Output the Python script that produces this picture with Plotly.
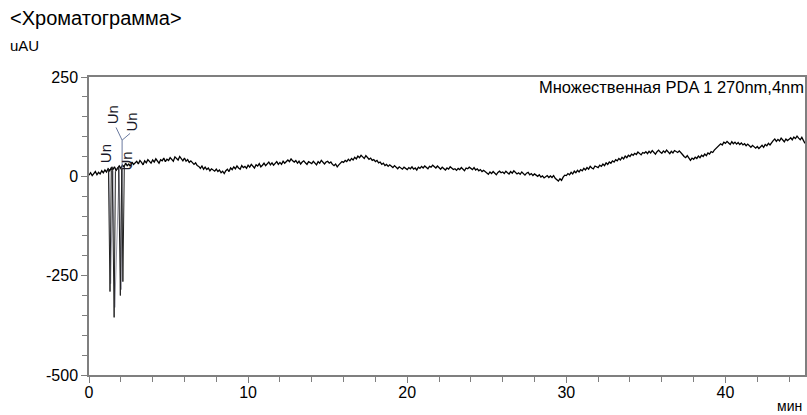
import plotly.graph_objects as go

# ---- data ----
time_step_min = 0.1
baseline_uau = [
    3, 9, 2, 8, 12, 4, 10, 6, 14, 9,
    16, 11, 19, 14, 22, 17, 24, 15, 21, 26,
    20, 28, 24, 33, 27, 31, 25, 36, 30, 34,
    38, 31, 40, 35, 29, 39, 34, 42, 36, 33,
    41, 36, 44, 38, 33, 42, 39, 46, 37, 43,
    40, 47, 43, 38, 49, 44, 41, 50, 45, 39,
    46, 38, 42, 35, 39, 33, 30, 34, 27, 25,
    20, 26, 18, 23, 17, 21, 14, 19, 16, 13,
    18, 12, 16, 9, 13, 7, 14, 18, 12, 21,
    17, 24, 19, 26, 21, 18, 27, 22, 25, 20,
    28, 23, 30, 25, 21, 29, 26, 32, 24, 28,
    33, 27, 31, 36, 29, 34, 28, 32, 37, 30,
    35, 30, 38, 33, 36, 41, 37, 44, 39, 36,
    40, 33, 38, 31, 36, 39, 34, 30, 37, 35,
    32, 38, 34, 29, 37, 33, 40, 35, 31, 36,
    38, 33, 36, 30, 27, 31, 24, 29, 33, 37,
    35, 40, 37, 43, 39, 45, 41, 48, 44, 51,
    47, 53, 49, 45, 52, 47, 43, 46, 40, 42,
    37, 40, 34, 36, 30, 33, 27, 30, 25, 29,
    26, 22, 27, 23, 19, 24, 21, 18, 23, 20,
    17, 22, 19, 24, 18, 21, 16, 23, 20, 25,
    21, 26, 22, 19, 25, 23, 28, 24, 21, 26,
    22, 18, 23, 19, 16, 21, 18, 24, 20, 17,
    19, 15, 20, 17, 22, 18, 14, 21, 19, 23,
    20, 17, 22, 16, 19, 14, 17, 12, 15, 11,
    9, 5, 11, 7, 12, 8, 4, 10, 13, 9,
    11, 7, 13, 9, 6, 12, 8, 14, 10, 6,
    9, 5, 11, 7, 3, 8, 10, 4, 7, 2,
    6, 3, 0, 4, -2, 1, -4, -1, 2, -3,
    1, -3, 2, -5, -8, -12, -6, -10, -2, 3,
    2, 7, 4, 10, 6, 13, 9, 15, 11, 17,
    14, 20, 16, 22, 18, 25, 21, 19, 26, 23,
    22, 28, 25, 31, 27, 34, 30, 36, 33, 39,
    36, 42, 39, 45, 41, 48, 44, 51, 47, 53,
    50, 56, 53, 58, 55, 61, 57, 54, 60, 58,
    62, 57, 63, 59, 65, 60, 56, 62, 66, 61,
    58, 64, 60, 66, 61, 57, 63, 59, 65, 62,
    60, 64, 58, 55, 50, 47, 52, 44, 40, 46,
    43, 48, 45, 51, 47, 53, 50, 56, 52, 59,
    56, 62, 60, 66, 70, 74, 78, 82, 79, 86,
    83, 88, 84, 80, 87, 82, 86, 81, 85, 80,
    84, 79, 82, 77, 81, 76, 73, 78, 74, 71,
    75, 70, 74, 78, 73, 80, 77, 83, 79, 86,
    90, 94, 88, 93, 89, 96, 91, 87, 94, 90,
    93, 97, 92, 99, 95, 101, 96, 92, 98, 88,
    83,
]
baseline_time = [round(i * time_step_min, 2) for i in range(len(baseline_uau))]

# negative "Un" peaks (black outline)
peak_time = [1.22, 1.32, 1.40, 1.46, 1.58, 1.66, 1.86, 1.97, 2.06, 2.13, 2.22]
peak_uau = [20, -290, 15, 24, -355, 12, 25, -300, 20, -265, 28]
# integration baselines (grey)
grey_time = [1.26, 1.36, 1.50, 1.62, 1.90, 2.02, 2.10]
grey_uau = [18, -270, 14, -330, 22, -285, 20]

un_label_time = [1.0, 1.45, 2.65, 2.35]
un_label_uau = [58, 154, 136, 38]

x_ticks = [0, 10, 20, 30, 40]
y_ticks = [250, 0, -250, -500]

FONT = "Liberation Sans, Arial, sans-serif"

fig = go.Figure()
fig.add_trace(go.Scatter(x=grey_time, y=grey_uau, mode="lines",
                         line=dict(color="#9a9aa8", width=1), hoverinfo="skip"))
fig.add_trace(go.Scatter(x=baseline_time, y=baseline_uau, mode="lines",
                         line=dict(color="black", width=1.3)))
fig.add_trace(go.Scatter(x=peak_time, y=peak_uau, mode="lines",
                         line=dict(color="#222222", width=1)))

# leader lines of the labels
lc = "#6a7aa0"
fig.add_shape(type="line", x0=1.70, y0=123, x1=2.08, y1=91, line=dict(color=lc, width=1))
fig.add_shape(type="line", x0=2.58, y0=108, x1=2.08, y1=91, line=dict(color=lc, width=1))
fig.add_shape(type="line", x0=2.08, y0=91, x1=2.08, y1=20, line=dict(color=lc, width=1))

for t, v in zip(un_label_time, un_label_uau):
    fig.add_annotation(x=t, y=v, text="Un", textangle=-90, showarrow=False,
                       font=dict(family=FONT, size=15, color="#1a1a2a"))

fig.add_annotation(xref="paper", yref="paper", x=1.0, y=1.0, xanchor="right", yanchor="top",
                   text="Множественная PDA 1 270nm,4nm", showarrow=False,
                   font=dict(family=FONT, size=16.5, color="black"), yshift=1, xshift=1)
fig.add_annotation(xref="paper", yref="paper", x=-0.1131, y=1.198, xanchor="left", yanchor="middle",
                   text="&lt;Хроматограмма&gt;", showarrow=False,
                   font=dict(family=FONT, size=20, color="black"))
fig.add_annotation(xref="paper", yref="paper", x=-0.1131, y=1.107, xanchor="left", yanchor="middle",
                   text="uAU", showarrow=False,
                   font=dict(family=FONT, size=15, color="black"))
fig.add_annotation(xref="paper", yref="paper", x=1.0, y=-0.072, xanchor="right", yanchor="top",
                   text="мин", showarrow=False, xshift=-1,
                   font=dict(family=FONT, size=14, color="black"))

axis_common = dict(showgrid=False, zeroline=False, showline=True, linecolor="#7f7f7f",
                   linewidth=1.5, mirror=True, ticks="outside", tickcolor="#7f7f7f",
                   ticklen=6, tickwidth=1.2, tickfont=dict(family=FONT, size=16, color="black"))
fig.update_xaxes(range=[0, 45], tickvals=x_ticks, ticktext=[str(v) for v in x_ticks],
                 minor=dict(dtick=2, ticks="outside", ticklen=5, tickcolor="#7f7f7f"),
                 ticklabelstandoff=-4, **axis_common)
fig.update_yaxes(range=[-500, 250], tickvals=y_ticks, ticktext=[str(v) for v in y_ticks],
                 minor=dict(dtick=50, ticks="outside", ticklen=5, tickcolor="#7f7f7f"),
                 **axis_common)

fig.update_layout(width=807, height=415,
                  margin=dict(l=89, r=2, t=77, b=40, autoexpand=False),
                  plot_bgcolor="white", paper_bgcolor="white", showlegend=False,
                  font=dict(family=FONT))
# remove the browser's default 8 px page margin so the figure fills the window exactly
fig.write_html("out.html", config={"displayModeBar": False},
               post_script="document.body.style.margin='0';document.body.style.overflow='hidden';")
